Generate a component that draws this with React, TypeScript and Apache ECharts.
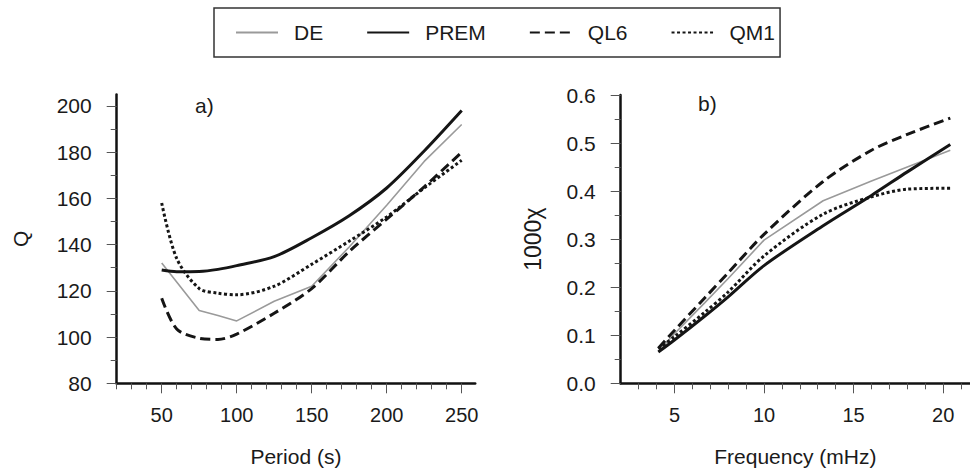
import React, { useEffect, useRef } from 'react';
import * as echarts from 'echarts';

// ---- Data ----
const seriesNames = ['DE', 'PREM', 'QL6', 'QM1'];

// Panel a) Q versus period (s)
const periods = [50, 60, 75, 87.5, 100, 125, 150, 175, 200, 225, 250];
const qDE = [132, 123.8, 111.5, 109.3, 107, 115.5, 122, 139, 157, 176, 192];
const qPREM = [129, 128.3, 128.4, 129.3, 130.9, 134.8, 143, 152.5, 164.5, 180.5, 198];
const qQL6 = [116.8, 103.5, 99.5, 99, 101.3, 110.3, 121, 137, 151, 165, 180];
const qQM1 = [158, 134, 121, 119, 118.3, 122, 131.5, 141.5, 152, 164.5, 176.5];

// Panel b) 1000*chi versus frequency (mHz)
const freqs = [4.1, 5, 6.7, 8, 10, 13.3, 16, 18, 20.4];
const cDE = [0.066, 0.103, 0.168, 0.218, 0.298, 0.38, 0.421, 0.45, 0.485];
const cPREM = [0.065, 0.09, 0.14, 0.18, 0.245, 0.328, 0.391, 0.44, 0.497];
const cQL6 = [0.073, 0.11, 0.178, 0.23, 0.31, 0.42, 0.485, 0.518, 0.552];
const cQM1 = [0.072, 0.097, 0.148, 0.19, 0.265, 0.352, 0.388, 0.404, 0.406];

// Ticks
const aXMajor = [50, 100, 150, 200, 250];
const aXMinor = [20, 30, 40, 60, 70, 80, 90, 110, 120, 130, 140, 160, 170, 180, 190, 210, 220, 230, 240];
const aYMajor = [80, 100, 120, 140, 160, 180, 200];
const aYMinor = [90, 110, 130, 150, 170, 190];
const bXMajor = [5, 10, 15, 20];
const bXMinor = [3, 4, 6, 7, 8, 9, 11, 12, 13, 14, 16, 17, 18, 19, 21];
const bYMajor = [0, 0.1, 0.2, 0.3, 0.4, 0.5, 0.6];
const bYMinor = [0.05, 0.15, 0.25, 0.35, 0.45, 0.55];

const FONT = "'Liberation Sans', Arial, Helvetica, sans-serif";
const TXT = '#1a1a1a';

const styles: Record<string, any> = {
  DE: { color: '#9a9a9a', width: 1.6, type: 'solid' },
  PREM: { color: '#151515', width: 3, type: 'solid' },
  QL6: { color: '#151515', width: 3, type: [10, 5] },
  QM1: { color: '#151515', width: 3, type: [3, 2.5] },
};
const smoothing: Record<string, any> = { DE: false, PREM: 0.3, QL6: 0.3, QM1: 0.3 };

const zip = (xs: number[], ys: number[]) => xs.map((x, i) => [x, ys[i]]);

export default function App() {
  const ref = useRef<HTMLDivElement>(null);
  useEffect(() => {
    if (!ref.current) return;
    const chart = echarts.init(ref.current, undefined, { renderer: 'svg' });

    const axisLine = { show: true, onZero: false, lineStyle: { color: '#111', width: 2.5 } };
    const tickStyle = { color: '#555', width: 1 };

    const mainX = (grid: number, min: number, max: number, name: string, major: number[]) => ({
      type: 'value', gridIndex: grid, min, max, position: 'bottom',
      name, nameLocation: 'middle', nameGap: 63,
      nameTextStyle: { fontSize: 21, color: TXT, fontFamily: FONT },
      axisLine,
      axisTick: { show: true, customValues: major, length: 10, lineStyle: tickStyle },
      axisLabel: { customValues: major, margin: 22, fontSize: 20, color: TXT, fontFamily: FONT },
      splitLine: { show: false },
    });
    const minorX = (grid: number, min: number, max: number, minor: number[]) => ({
      type: 'value', gridIndex: grid, min, max, position: 'bottom',
      axisLine: { show: false, onZero: false },
      axisTick: { show: true, customValues: minor, length: 6, lineStyle: tickStyle },
      axisLabel: { show: false },
      splitLine: { show: false },
    });
    const mainY = (grid: number, min: number, max: number, name: string, nameSize: number, major: number[], gap: number, fmt?: (v: number) => string) => ({
      type: 'value', gridIndex: grid, min, max, position: 'left',
      name, nameLocation: 'middle', nameGap: gap,
      nameTextStyle: { fontSize: nameSize, color: TXT, fontFamily: FONT },
      axisLine,
      axisTick: { show: true, customValues: major, length: 10, lineStyle: tickStyle },
      axisLabel: { customValues: major, margin: 25, fontSize: 21, color: TXT, fontFamily: FONT, formatter: fmt },
      splitLine: { show: false },
    });
    const minorY = (grid: number, min: number, max: number, minor: number[]) => ({
      type: 'value', gridIndex: grid, min, max, position: 'left',
      axisLine: { show: false, onZero: false },
      axisTick: { show: true, customValues: minor, length: 6, lineStyle: tickStyle },
      axisLabel: { show: false },
      splitLine: { show: false },
    });

    const aData: Record<string, number[]> = { DE: qDE, PREM: qPREM, QL6: qQL6, QM1: qQM1 };
    const bData: Record<string, number[]> = { DE: cDE, PREM: cPREM, QL6: cQL6, QM1: cQM1 };

    const series: any[] = [];
    seriesNames.forEach((n) => {
      series.push({
        name: n, type: 'line', xAxisIndex: 0, yAxisIndex: 0,
        data: zip(periods, aData[n]), symbol: 'none', showSymbol: false,
        smooth: smoothing[n], lineStyle: styles[n], itemStyle: { color: styles[n].color },
        z: n === 'DE' ? 2 : 3,
      });
    });
    seriesNames.forEach((n) => {
      series.push({
        name: n, type: 'line', xAxisIndex: 2, yAxisIndex: 2,
        data: zip(freqs, bData[n]), symbol: 'none', showSymbol: false,
        smooth: smoothing[n], lineStyle: styles[n], itemStyle: { color: styles[n].color },
        z: n === 'DE' ? 2 : 3,
      });
    });

    chart.setOption({
      animation: false,
      backgroundColor: '#ffffff',
      textStyle: { fontFamily: FONT },
      legend: {
        data: seriesNames,
        left: 214, top: 8,
        padding: [14, 5, 14, 21],
        borderColor: '#333', borderWidth: 1.5,
        itemWidth: 42, itemHeight: 14, itemGap: 43,
        itemStyle: { opacity: 0 },
        textStyle: { fontSize: 21, color: TXT, fontFamily: FONT, padding: [0, 0, 0, 11] },
      },
      grid: [
        { left: 116.7, top: 94.4, width: 358.5, height: 288.9 },
        { left: 620.7, top: 95, width: 351, height: 288.3 },
      ],
      xAxis: [
        mainX(0, 20, 259, 'Period (s)', aXMajor),
        minorX(0, 20, 259, aXMinor),
        mainX(1, 2, 21.5, 'Frequency (mHz)', bXMajor),
        minorX(1, 2, 21.5, bXMinor),
      ],
      yAxis: [
        mainY(0, 80, 205, 'Q', 21, aYMajor, 86),
        minorY(0, 80, 205, aYMinor),
        mainY(1, 0, 0.6, '1000\u03C7', 23, bYMajor, 76, (v: number) => v.toFixed(1)),
        minorY(1, 0, 0.6, bYMinor),
      ],
      graphic: [
        { type: 'text', left: 195, top: 95, style: { text: 'a)', fontSize: 21, fill: TXT, fontFamily: FONT } },
        { type: 'text', left: 698, top: 93, style: { text: 'b)', fontSize: 21, fill: TXT, fontFamily: FONT } },
      ],
      series,
    });
    return () => chart.dispose();
  }, []);
  return <div ref={ref} style={{ position: 'absolute', left: 0, top: 0, width: 970, height: 475 }} />;
}
